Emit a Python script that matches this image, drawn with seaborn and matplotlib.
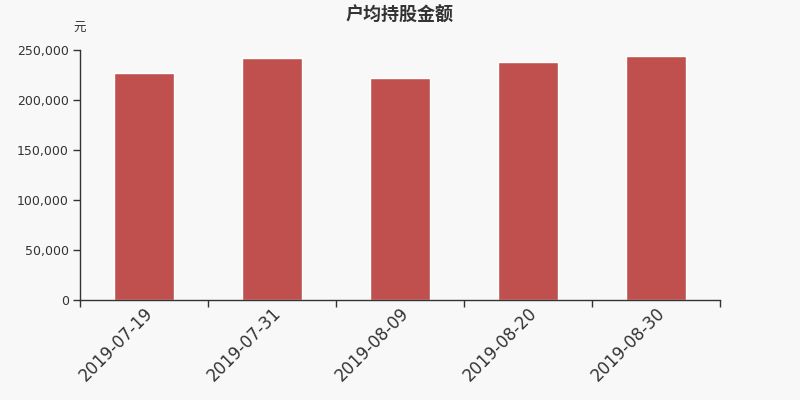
import numpy as np
import pandas as pd
import matplotlib
matplotlib.use('Agg')
import matplotlib.pyplot as plt
import seaborn as sns
from matplotlib.ticker import FuncFormatter

dates = ['2019-07-19', '2019-07-31', '2019-08-09', '2019-08-20', '2019-08-30']
amounts = [227300, 242000, 221700, 238000, 244000]

sns.set_style("white")
plt.rcParams['font.family'] = ['DejaVu Sans', 'Noto Sans CJK SC']

bg = '#f8f8f8'
fig = plt.figure(figsize=(8, 4), dpi=100, facecolor=bg)
ax = fig.add_axes([0.1, 0.25, 0.8, 0.625])
ax.set_facecolor(bg)

df = pd.DataFrame({'date': dates, 'amount': amounts})
sns.barplot(data=df, x='date', y='amount', color='#c0504d', saturation=1,
            width=0.47, ax=ax)

ax.set_xlim(-0.5, len(dates) - 0.5)
ax.set_ylim(0, 250000)
ax.set_yticks(np.arange(0, 250001, 50000))
ax.yaxis.set_major_formatter(FuncFormatter(lambda v, p: f'{int(v):,}'))
ax.set_xticks(np.arange(len(dates)))
ax.set_xticklabels(dates, rotation=45, ha='right', rotation_mode='anchor', fontsize=12, color='#333333')
ax.set_xticks(np.arange(-0.5, len(dates), 1), minor=True)
ax.tick_params(axis='x', which='major', length=0, pad=3, bottom=True)
ax.tick_params(axis='x', which='minor', length=5, width=1, color='#333333', direction='out', bottom=True)
ax.tick_params(axis='y', length=5, width=1, color='#333333', labelsize=9, labelcolor='#333333', left=True, pad=3)

for s in ['top', 'right']:
    ax.spines[s].set_visible(False)
for s in ['left', 'bottom']:
    ax.spines[s].set_color('#333333')
    ax.spines[s].set_linewidth(1)

ax.set_xlabel('')
ax.set_ylabel('')
fig.text(0.099, 0.93, '元', ha='center', va='center', fontsize=9, color='#333333')
fig.text(0.5, 0.96, '户均持股金额', ha='center', va='center', fontsize=13, fontweight='bold', color='#333333')

fig.savefig('out.png', dpi=100, facecolor=bg)
